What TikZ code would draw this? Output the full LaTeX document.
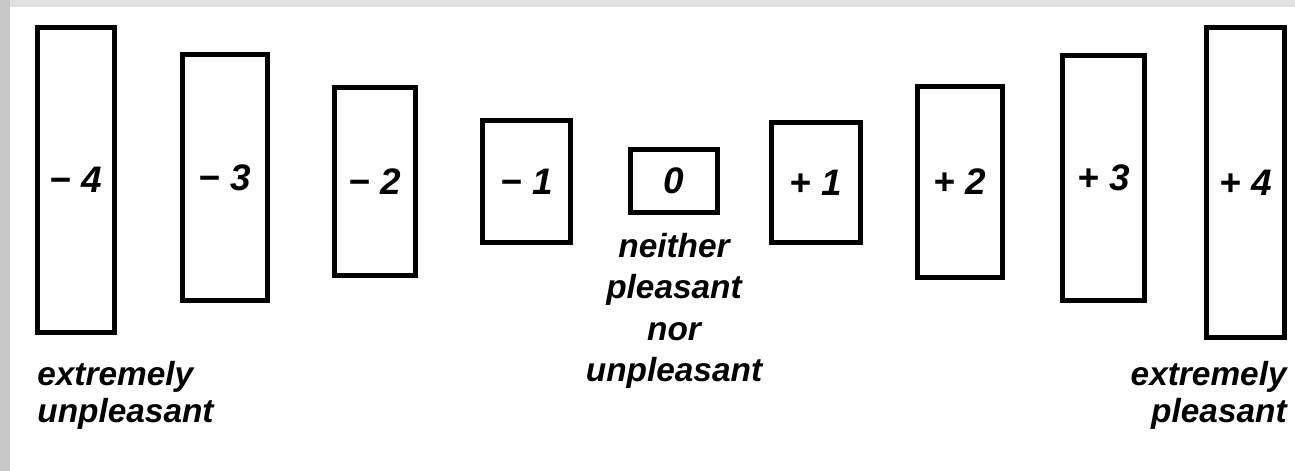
\documentclass[tikz,border=0pt]{standalone}
\usepackage{fontspec}
\setmainfont{Liberation Sans}
\begin{document}
\begin{tikzpicture}
  [x=1cm,y=1cm,
   box/.style={draw=black,line width=2.6pt,inner sep=0pt,
     font=\fontsize{21}{25}\selectfont\bfseries\itshape},
   note/.style={inner sep=0pt,font=\fontsize{19}{21}\selectfont\bfseries\itshape}]
  \useasboundingbox (0,0) rectangle (25.9,-9.42);
  \fill[black!12] (0,0) rectangle (25.9,-0.14);
  \fill[black!22] (0,0) rectangle (0.2,-9.42);

  \node[box,minimum width=1.54cm,minimum height=6.10cm] (m4) at (1.52,-3.60) {− 4};
  \node[box,minimum width=1.70cm,minimum height=4.92cm] (m3) at (4.50,-3.55) {− 3};
  \node[box,minimum width=1.62cm,minimum height=3.76cm] (m2) at (7.50,-3.63) {− 2};
  \node[box,minimum width=1.76cm,minimum height=2.44cm] (m1) at (10.53,-3.63) {− 1};
  \node[box,minimum width=1.74cm,minimum height=1.26cm] (z0) at (13.48,-3.62) {0};
  \node[box,minimum width=1.78cm,minimum height=2.40cm] (p1) at (16.32,-3.65) {+ 1};
  \node[box,minimum width=1.70cm,minimum height=3.82cm] (p2) at (19.20,-3.64) {+ 2};
  \node[box,minimum width=1.64cm,minimum height=4.90cm] (p3) at (22.07,-3.56) {+ 3};
  \node[box,minimum width=1.56cm,minimum height=6.20cm] (p4) at (24.91,-3.65) {+ 4};

  \node[note,align=left,anchor=north west] (lowend) at (0.74,-7.22)
    {extremely\\unpleasant};
  \node[note,align=center,anchor=north,font=\fontsize{19}{23.5}\selectfont\bfseries\itshape] (midpoint) at (13.48,-4.66)
    {neither\\pleasant\\nor\\unpleasant};
  \node[note,align=right,anchor=north east] (highend) at (25.74,-7.22)
    {extremely\\pleasant};
\end{tikzpicture}
\end{document}
